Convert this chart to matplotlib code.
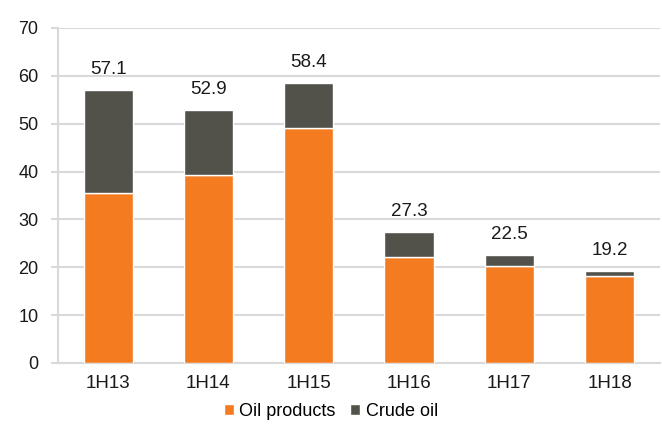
import matplotlib.pyplot as plt
import numpy as np

plt.rcParams['font.family'] = ['Liberation Sans', 'DejaVu Sans']

periods = ['1H13', '1H14', '1H15', '1H16', '1H17', '1H18']
oil_products = [35.5, 39.2, 49.1, 22.2, 20.3, 18.2]
crude_oil = [21.6, 13.7, 9.3, 5.1, 2.2, 1.0]
totals = [57.1, 52.9, 58.4, 27.3, 22.5, 19.2]

orange = '#F47B20'
dark = '#53524A'
grid = '#D9D9D9'

fig = plt.figure(figsize=(6.62, 4.30), dpi=100)
ax = fig.add_axes([0.0876, 0.156, 0.909, 0.779])

x = np.arange(len(periods))
ax.bar(x, oil_products, width=0.49, color=orange, edgecolor='white', linewidth=1, label='Oil products', zorder=3)
ax.bar(x, crude_oil, width=0.49, bottom=oil_products, color=dark, edgecolor='white', linewidth=1, label='Crude oil', zorder=3)

for xi, t in zip(x, totals):
    ax.text(xi, t + 2.5, f'{t:.1f}', ha='center', va='bottom', fontsize=13.5, color='#1a1a1a')

ax.set_xlim(-0.5, len(periods) - 0.5)
ax.set_ylim(0, 70)
ax.set_yticks(range(0, 71, 10))
ax.set_xticks(x)
ax.set_xticklabels(periods)
ax.yaxis.grid(True, color=grid, linewidth=1.5, zorder=0)
ax.tick_params(axis='y', length=5, color=grid, width=1.5, labelsize=13, labelcolor='#1a1a1a', pad=9)
ax.tick_params(axis='x', length=0, labelsize=13.5, labelcolor='#1a1a1a', pad=9)
for s in ['top', 'right']:
    ax.spines[s].set_visible(False)
ax.spines['left'].set_color(grid)
ax.spines['left'].set_linewidth(1.5)
ax.spines['bottom'].set_color(grid)
ax.spines['bottom'].set_linewidth(1.5)

fig.legend(loc='lower center', bbox_to_anchor=(0.5, -0.015), ncol=2, frameon=False,
           fontsize=13, handlelength=0.55, handleheight=0.55, handletextpad=0.3, columnspacing=0.8)

fig.savefig('out.png', dpi=100)
